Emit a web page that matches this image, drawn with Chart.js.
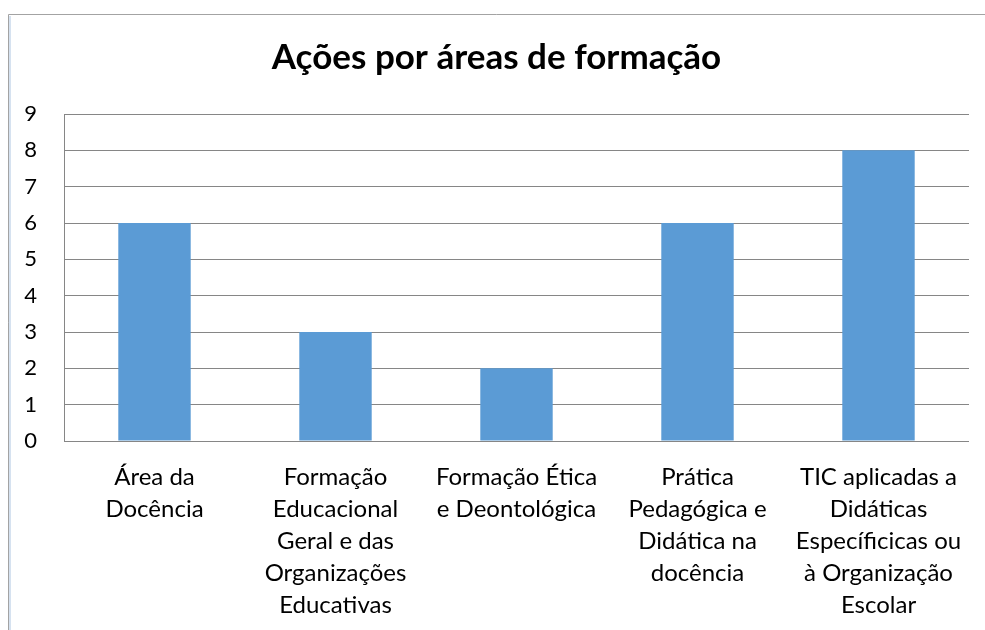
<!DOCTYPE html>
<html>
<head>
<meta charset="utf-8">
<script src="https://cdn.jsdelivr.net/npm/chart.js@4.4.0/dist/chart.umd.min.js"></script>
<style>
  html, body { margin: 0; padding: 0; background: #ffffff; }
  #caixa { position: relative; width: 985px; height: 630px; }
</style>
</head>
<body>
<div id="caixa"><canvas id="grafico"></canvas></div>
<script>
// Dados do gráfico
const categorias = [
    ['Área da', 'Docência'],
    ['Formação', 'Educacional', 'Geral e das', 'Organizações', 'Educativas'],
    ['Formação Ética', 'e Deontológica'],
    ['Prática', 'Pedagógica e', 'Didática na', 'docência'],
    ['TIC aplicadas a', 'Didáticas', 'Específicicas ou', 'à Organização', 'Escolar']
];
const acoes = [6, 3, 2, 6, 8];
const ticksY = [0, 1, 2, 3, 4, 5, 6, 7, 8, 9];

const fonte = 'Lato, Carlito, Calibri, sans-serif';

// Moldura da área do gráfico (borda cinza no topo e à esquerda)
const moldura = {
    id: 'moldura',
    beforeDraw(chart) {
        const ctx = chart.ctx;
        ctx.save();
        ctx.strokeStyle = '#d6e2f0';
        ctx.lineWidth = 3;
        ctx.beginPath();
        ctx.moveTo(9.5, 16);
        ctx.lineTo(9.5, 630);
        ctx.stroke();
        ctx.strokeStyle = '#a3a3a3';
        ctx.lineWidth = 1;
        ctx.beginPath();
        ctx.moveTo(8.5, 630);
        ctx.lineTo(8.5, 14.5);
        ctx.lineTo(985, 14.5);
        ctx.stroke();
        ctx.restore();
    }
};

const ctx = document.getElementById('grafico').getContext('2d');
new Chart(ctx, {
    type: 'bar',
    data: {
        labels: categorias,
        datasets: [{
            data: acoes,
            backgroundColor: '#5b9bd5',
            borderWidth: 0,
            categoryPercentage: 1,
            barPercentage: 0.4
        }]
    },
    options: {
        responsive: true,
        maintainAspectRatio: false,
        animation: false,
        layout: { padding: { left: 24, right: 16, top: 0, bottom: 9 } },
        plugins: {
            legend: { display: false },
            tooltip: { enabled: false },
            title: {
                display: true,
                text: 'Ações por áreas de formação',
                color: '#000000',
                font: { family: fonte, size: 35, weight: 'bold' },
                padding: { top: 37, bottom: 35 }
            }
        },
        scales: {
            x: {
                afterFit(scale) { scale.height = 180; },
                grid: { display: false, drawTicks: false },
                border: { display: false },
                ticks: {
                    color: '#000000',
                    font: { family: fonte, size: 24, lineHeight: 32 / 24 },
                    padding: 20,
                    maxRotation: 0,
                    autoSkip: false
                }
            },
            y: {
                min: 0,
                max: 9,
                afterFit(scale) { scale.width = 40; },
                afterBuildTicks(scale) { scale.ticks = ticksY.map(v => ({ value: v })); },
                grid: { color: '#868686', lineWidth: 1, drawTicks: false },
                border: { display: true, color: '#868686' },
                ticks: {
                    color: '#000000',
                    font: { family: fonte, size: 22 },
                    padding: 27
                }
            }
        }
    },
    plugins: [moldura]
});
</script>
</body>
</html>
